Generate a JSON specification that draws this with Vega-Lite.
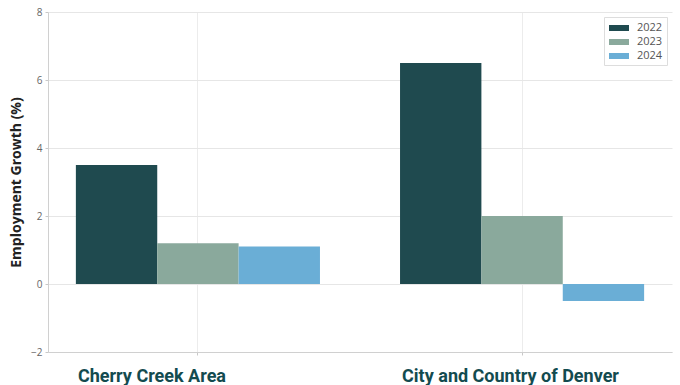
{
  "$schema": "https://vega.github.io/schema/vega-lite/v6.json",
  "width": 624,
  "height": 340,
  "autosize": {"type": "none"},
  "padding": {"left": 48, "top": 12, "right": 8, "bottom": 33},
  "background": "white",
  "data": {
    "values": [
      {"area": "Cherry Creek Area", "year": "2022", "growth": 3.5},
      {"area": "Cherry Creek Area", "year": "2023", "growth": 1.2},
      {"area": "Cherry Creek Area", "year": "2024", "growth": 1.1},
      {"area": "City and Country of Denver", "year": "2022", "growth": 6.5},
      {"area": "City and Country of Denver", "year": "2023", "growth": 2.0},
      {"area": "City and Country of Denver", "year": "2024", "growth": -0.5}
    ]
  },
  "config": {
    "view": {"stroke": null},
    "font": "Open Sans",
    "axis": {"gridColor": "#e6e6e6", "domainColor": "#d0d0d0", "tickColor": "#c8c8c8"}
  },
  "mark": {"type": "bar"},
  "encoding": {
    "x": {
      "field": "area",
      "type": "nominal",
      "scale": {"paddingInner": 0.247, "paddingOuter": 0.086},
      "axis": {
        "title": null,
        "grid": true,
        "labelAngle": 0,
        "labelAlign": "left",
        "labelBaseline": "alphabetic",
        "labelOffset": -120,
        "labelPadding": 26,
        "labelLimit": 0,
        "labelFont": "Roboto",
        "labelFontWeight": "bold",
        "labelFontSize": 18,
        "labelColor": "#134b4f",
        "tickSize": 3,
        "gridColor": "#ececec"
      }
    },
    "xOffset": {"field": "year", "type": "nominal", "scale": {"paddingInner": 0, "paddingOuter": 0}},
    "y": {
      "field": "growth",
      "type": "quantitative",
      "scale": {"domain": [-2, 8], "nice": false},
      "axis": {
        "title": "Employment Growth (%)",
        "titleFont": "Open Sans",
        "titleFontWeight": "bold",
        "titleFontSize": 14,
        "titleColor": "#222222",
        "titlePadding": 7,
        "values": [-2, 0, 2, 4, 6, 8],
        "labelColor": "#666666",
        "labelFontSize": 10,
        "tickSize": 3,
        "labelPadding": 3
      }
    },
    "color": {
      "field": "year",
      "type": "nominal",
      "scale": {"domain": ["2022", "2023", "2024"], "range": ["#1f4a4f", "#8aa99c", "#6aaed6"]},
      "legend": {
        "title": null,
        "orient": "top-right",
        "offset": 5,
        "fillColor": "white",
        "strokeColor": "#dddddd",
        "padding": 4,
        "symbolType": "M-1.5,-0.45H1.5V0.45H-1.5Z",
        "symbolSize": 178,
        "symbolStrokeWidth": 0,
        "symbolOffset": 4,
        "labelFontSize": 11,
        "labelColor": "#555555",
        "labelOffset": 11,
        "rowPadding": 2
      }
    }
  }
}
